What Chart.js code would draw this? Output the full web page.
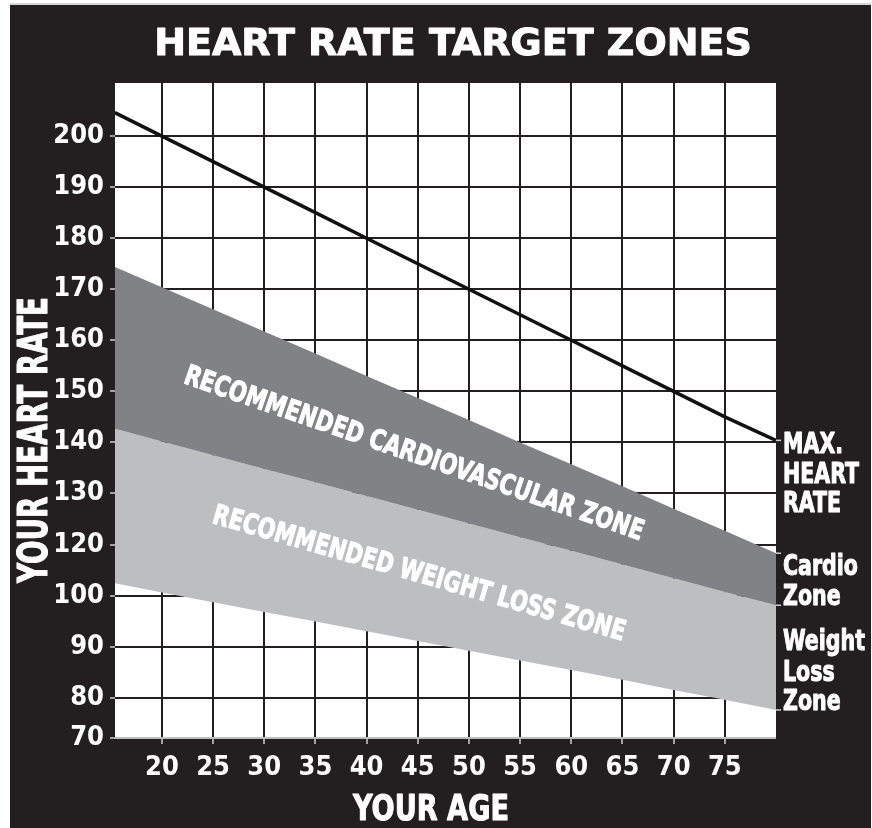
<!DOCTYPE html>
<html>
<head>
<meta charset="utf-8">
<title>Heart Rate Target Zones</title>
<script src="https://cdn.jsdelivr.net/npm/chart.js@4.4.1/dist/chart.umd.min.js"></script>
<style>
  html, body { margin: 0; padding: 0; background: #fff; }
  #box { width: 872px; height: 828px; }
</style>
</head>
<body>
<div id="box"><canvas id="hrChart" width="872" height="828"></canvas></div>
<script>
// ages read along the x axis (left edge of the grid is ~15.4, right edge 80)
var ages = [15.4, 20, 25, 30, 35, 40, 45, 50, 55, 60, 65, 70, 75, 80];
var maxHeartRate = [204.6, 200, 195, 190, 185, 180, 175, 170, 165, 160, 155, 150, 145, 140.4];
var cardioTop = [174.4, 170.4, 166.1, 161.7, 157.4, 153.0, 148.7, 144.4, 140.0, 135.7, 131.4, 127.0, 122.7, 118.3];
var cardioBottom = [142.7, 140.2, 137.5, 134.8, 132.2, 129.5, 126.8, 124.1, 121.4, 118.8, 116.1, 113.4, 110.7, 108.1];
var weightLossBottom = [112.4, 110.6, 108.7, 106.8, 104.9, 103.0, 101.1, 99.2, 97.3, 95.4, 93.5, 91.5, 89.6, 87.6];

var ageTicks = [20, 25, 30, 35, 40, 45, 50, 55, 60, 65, 70, 75];
// the printed axis skips "110", so the lower labels sit one step off
var rateTickValues = [200, 190, 180, 170, 160, 150, 140, 130, 120, 110, 100, 90, 82.1];
var rateTickLabels = ["200", "190", "180", "170", "160", "150", "140", "130", "120", "100", "90", "80", "70"];

var BLACK = '#231f20';
var narrow = "'DejaVu Sans Condensed', 'DejaVu Sans', sans-serif";

function pts(ys) {
  return ages.map(function (a, i) { return { x: a, y: ys[i] }; });
}

// background, black frame and white plot area
var framePlugin = {
  id: 'frame',
  beforeDraw: function (chart) {
    var c = chart.ctx, a = chart.chartArea;
    c.save();
    c.fillStyle = '#fff';
    c.fillRect(0, 0, chart.width, chart.height);
    c.fillStyle = '#d6d6d6';
    c.fillRect(10, 3, 861, 2);
    c.fillStyle = BLACK;
    c.fillRect(10, 5, 861, chart.height - 5);
    c.fillStyle = '#fff';
    c.fillRect(a.left, a.top, a.right - a.left, a.bottom - a.top);
    c.restore();
  }
};

// squeeze a text horizontally so it spans the given width (thin stroke = heavier look)
function squeezed(c, text, x, y, width, align) {
  var w = c.measureText(text).width;
  var k = Math.min(1, width / w);
  c.save();
  c.translate(x, y);
  c.scale(k, 1);
  c.textAlign = align;
  c.fillText(text, 0, 0);
  c.strokeText(text, 0, 0);
  c.restore();
}

// titles, zone captions and the labels at the right end
var textPlugin = {
  id: 'texts',
  afterDraw: function (chart) {
    var c = chart.ctx, x = chart.scales.x, y = chart.scales.y, a = chart.chartArea;
    var last = ages.length - 1;
    c.save();
    c.fillStyle = '#fff';
    c.strokeStyle = '#fff';
    c.lineWidth = 1;
    c.lineJoin = 'round';
    c.textBaseline = 'alphabetic';

    c.font = "bold 38px 'DejaVu Sans', sans-serif";
    squeezed(c, 'HEART RATE TARGET ZONES', 453, 55, 615, 'center');

    c.font = 'bold condensed 36px ' + narrow;
    squeezed(c, 'YOUR AGE', 431, 820, 156, 'center');

    c.save();
    c.translate(47, 440);
    c.rotate(-Math.PI / 2);
    c.font = 'bold condensed 40px ' + narrow;
    squeezed(c, 'YOUR HEART RATE', 0, 0, 286, 'center');
    c.restore();

    function slanted(text, age, rate, deg, width) {
      c.save();
      c.translate(x.getPixelForValue(age), y.getPixelForValue(rate));
      c.rotate(deg * Math.PI / 180);
      c.font = 'bold condensed 28px ' + narrow;
      c.textBaseline = 'middle';
      squeezed(c, text, 0, 0, width, 'center');
      c.restore();
    }
    slanted('RECOMMENDED CARDIOVASCULAR ZONE', 44.6, 137.6, 19, 484);
    slanted('RECOMMENDED WEIGHT LOSS ZONE', 45.1, 114.1, 16, 428);

    // little marks where each boundary meets the right edge
    c.save();
    c.strokeStyle = '#cfcfcf';
    c.lineWidth = 1.5;
    [maxHeartRate, cardioTop, cardioBottom, weightLossBottom].forEach(function (s) {
      var py = y.getPixelForValue(s[last]);
      c.beginPath();
      c.moveTo(a.right, py);
      c.lineTo(a.right + 5, py);
      c.stroke();
    });
    c.restore();

    c.font = 'bold condensed 29px ' + narrow;
    var lx = a.right + 7;
    var k = Math.min(1, 76 / c.measureText('HEART').width);
    [['MAX.', 453], ['HEART', 483], ['RATE', 512], ['Cardio', 575], ['Zone', 605],
     ['Weight', 650], ['Loss', 681], ['Zone', 710]].forEach(function (t) {
      c.save();
      c.translate(lx, t[1]);
      c.scale(k, 1);
      c.textAlign = 'left';
      c.fillText(t[0], 0, 0);
      c.strokeText(t[0], 0, 0);
      c.restore();
    });
    c.restore();
  }
};

var tickFont = { family: narrow, size: 27, weight: 'bold condensed' };

var ctx = document.getElementById('hrChart').getContext('2d');
var hrChart = new Chart(ctx, {
  type: 'line',
  data: {
    datasets: [{
      label: 'Cardio Zone',
      data: pts(cardioTop),
      backgroundColor: '#808285',
      borderWidth: 0,
      pointRadius: 0,
      fill: '+1'
    }, {
      label: 'Weight Loss Zone',
      data: pts(cardioBottom),
      backgroundColor: '#bcbec0',
      borderWidth: 0,
      pointRadius: 0,
      fill: '+1'
    }, {
      label: 'Weight Loss Floor',
      data: pts(weightLossBottom),
      borderWidth: 0,
      pointRadius: 0,
      fill: false
    }, {
      label: 'Max. Heart Rate',
      data: pts(maxHeartRate),
      borderColor: '#111',
      borderWidth: 3.5,
      pointRadius: 0,
      fill: false
    }]
  },
  options: {
    responsive: false,
    animation: false,
    devicePixelRatio: 1,
    layout: { padding: { top: 83, right: 96, left: 0, bottom: 0 } },
    plugins: {
      legend: { display: false },
      tooltip: { enabled: false },
      title: { display: false }
    },
    scales: {
      x: {
        type: 'linear',
        min: 15.42,
        max: 80,
        z: 1,
        afterBuildTicks: function (s) { s.ticks = ageTicks.map(function (v) { return { value: v }; }); },
        afterFit: function (s) { s.height = 90; },
        border: { display: false },
        grid: { color: BLACK, lineWidth: 2, tickLength: 6, tickColor: '#cfcfcf', tickWidth: 1.5 },
        ticks: {
          autoSkip: false,
          maxRotation: 0,
          padding: 8,
          color: '#fff',
          font: tickFont
        }
      },
      y: {
        type: 'linear',
        min: 82.1,
        max: 210.4,
        z: 1,
        afterBuildTicks: function (s) { s.ticks = rateTickValues.map(function (v) { return { value: v }; }); },
        afterFit: function (s) { s.width = 115; },
        border: { display: false },
        grid: {
          color: function (c) { return c.index === rateTickValues.length - 1 ? '#bdbdbd' : BLACK; },
          lineWidth: 2,
          tickLength: 5,
          tickColor: '#cfcfcf',
          tickWidth: 1.5
        },
        ticks: {
          autoSkip: false,
          padding: 6,
          color: '#fff',
          font: tickFont,
          callback: function (value, index) { return rateTickLabels[index]; }
        }
      }
    }
  },
  plugins: [framePlugin, textPlugin]
});
</script>
</body>
</html>
